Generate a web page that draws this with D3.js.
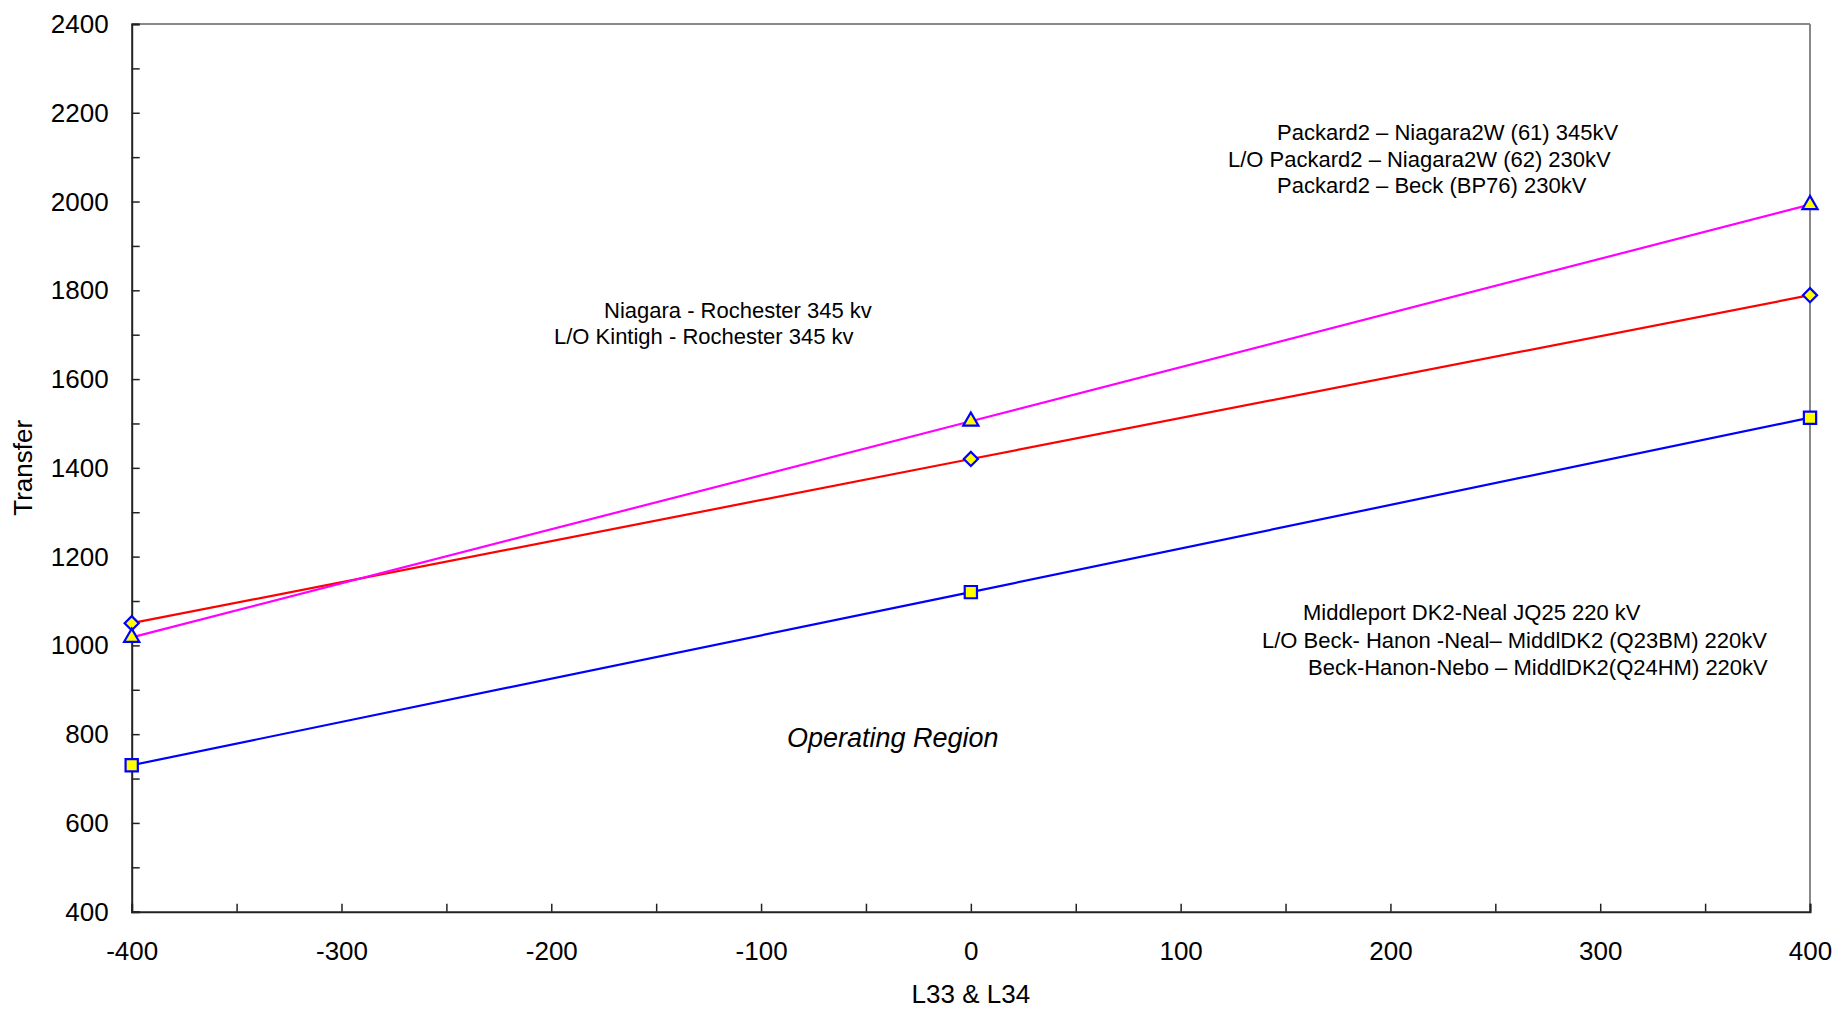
<!DOCTYPE html>
<html><head><meta charset="utf-8">
<script src="https://cdn.jsdelivr.net/npm/d3@7"></script>
<style>html,body{margin:0;padding:0;background:#fff;}svg{display:block;font-family:"Liberation Sans",Arial,sans-serif;}</style>
</head><body>
<svg id="chart" width="1839" height="1011"></svg>
<script>
const xValues = [-400, 0, 400];
const seriesNames = ["Middleport DK2-Neal", "Niagara - Rochester", "Packard2 - Niagara2W"];
const squareValues = [730, 1120, 1513];
const diamondValues = [1050, 1420, 1789];
const triangleValues = [1018, 1505, 1993];
const xTicks = [-400, -300, -200, -100, 0, 100, 200, 300, 400];
const yTicks = [400, 600, 800, 1000, 1200, 1400, 1600, 1800, 2000, 2200, 2400];
const annotations = [
  {lines: ["Packard2 – Niagara2W (61) 345kV", "L/O Packard2 – Niagara2W (62) 230kV", "Packard2 – Beck (BP76) 230kV"], x: [1277, 1228, 1277], y: [140, 167, 193]},
  {lines: ["Niagara - Rochester 345 kv", "L/O Kintigh - Rochester 345 kv"], x: [604, 554], y: [318, 344]},
  {lines: ["Middleport DK2-Neal JQ25 220 kV", "L/O Beck- Hanon -Neal– MiddlDK2 (Q23BM) 220kV", "Beck-Hanon-Nebo – MiddlDK2(Q24HM) 220kV"], x: [1303, 1262, 1308], y: [620, 648, 675]}
];

const svg = d3.select("#chart");
const L = 131.7, R = 1810, T = 24, B = 911.7;
const x = d3.scaleLinear().domain([-400, 400]).range([L, R]);
const y = d3.scaleLinear().domain([400, 2400]).range([B, T]);

// frame: top and right grey
svg.append("line").attr("x1", L).attr("x2", R).attr("y1", T).attr("y2", T).attr("stroke", "#888").attr("stroke-width", 2);
svg.append("line").attr("x1", R).attr("x2", R).attr("y1", T).attr("y2", B).attr("stroke", "#888").attr("stroke-width", 2);

// x axis
const xAxis = d3.axisBottom(x).tickValues(d3.range(-400, 401, 50)).tickSize(-8)
  .tickFormat(d => xTicks.includes(d) ? d : "");
const gx = svg.append("g").attr("transform", `translate(0,${B})`).call(xAxis);
gx.select(".domain").attr("stroke", "#222").attr("stroke-width", 2);
gx.selectAll(".tick line").attr("stroke", "#222").attr("stroke-width", 1.5);
gx.selectAll(".tick text").attr("font-size", 26).attr("fill", "#000").attr("y", 48).attr("dy", 0)
  .attr("font-family", "'Liberation Sans', Arial, sans-serif");

// y axis
const yAxis = d3.axisLeft(y).tickValues(d3.range(400, 2401, 100)).tickSize(-8)
  .tickFormat(d => yTicks.includes(d) ? d : "");
const gy = svg.append("g").attr("transform", `translate(${L},0)`).call(yAxis);
gy.select(".domain").attr("stroke", "#222").attr("stroke-width", 2);
gy.selectAll(".tick line").attr("stroke", "#222").attr("stroke-width", 1.5);
gy.selectAll(".tick text").attr("font-size", 26).attr("fill", "#000").attr("x", -23).attr("dy", "0.33em")
  .attr("font-family", "'Liberation Sans', Arial, sans-serif");

// axis titles
svg.append("text").attr("x", (L + R) / 2).attr("y", 1003).attr("text-anchor", "middle")
  .attr("font-size", 26).text("L33 & L34");
svg.append("text").attr("transform", `translate(32,${(T + B) / 2}) rotate(-90)`).attr("text-anchor", "middle")
  .attr("font-size", 26).text("Transfer");

// series
const series = [
  {name: seriesNames[0], vals: squareValues, color: "#0000ff", shape: d3.symbolSquare, size: 150, rot: 0},
  {name: seriesNames[1], vals: diamondValues, color: "#ff0000", shape: d3.symbolSquare, size: 100, rot: 45},
  {name: seriesNames[2], vals: triangleValues, color: "#ff00ff", shape: d3.symbolTriangle, size: 100, rot: 0}
];
const line = d3.line().x(d => x(d[0])).y(d => y(d[1]));
series.forEach(s => {
  const pts = xValues.map((xv, i) => [xv, s.vals[i]]);
  svg.append("path").datum(pts).attr("d", line).attr("fill", "none").attr("stroke", s.color).attr("stroke-width", 2.2);
});
series.forEach(s => {
  const pts = xValues.map((xv, i) => [xv, s.vals[i]]);
  svg.selectAll(null).data(pts).enter().append("path")
    .attr("d", d3.symbol().type(s.shape).size(s.size))
    .attr("transform", d => `translate(${x(d[0])},${y(d[1])}) rotate(${s.rot})`)
    .attr("fill", "#ffff00").attr("stroke", "#0000ff").attr("stroke-width", 2.2);
});

// annotations
annotations.forEach(a => {
  a.lines.forEach((t, i) => {
    svg.append("text").attr("x", a.x[i]).attr("y", a.y[i]).attr("font-size", 22).attr("fill", "#000").text(t);
  });
});
svg.append("text").attr("x", 787).attr("y", 747).attr("font-size", 27).attr("font-style", "italic").text("Operating Region");
</script>
</body></html>
